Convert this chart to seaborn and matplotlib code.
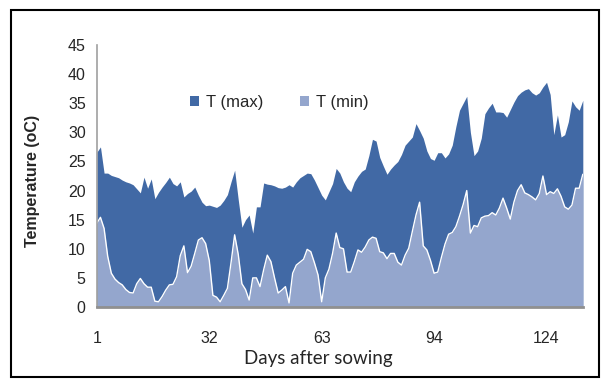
import numpy as np
import pandas as pd
import seaborn as sns
import matplotlib.pyplot as plt
from matplotlib.patches import Rectangle

# daily temperatures
t_max = [26.6, 27.5, 23.0, 23.0, 22.6, 22.4, 22.2, 21.8, 21.5, 21.3,
         21.0, 20.3, 19.6, 22.3, 20.4, 22.0, 18.6, 19.7, 20.6, 21.4,
         22.3, 21.2, 20.8, 21.5, 18.9, 19.5, 19.9, 20.6, 19.2, 18.0,
         17.4, 17.5, 17.3, 17.1, 17.5, 18.3, 19.3, 21.5, 23.5, 18.4,
         13.7, 15.0, 15.8, 12.7, 17.2, 17.2, 21.3, 21.1, 21.0, 20.8,
         20.5, 20.4, 20.6, 21.0, 20.6, 21.5, 22.2, 22.6, 23.0, 22.9,
         21.8, 20.5, 19.2, 18.4, 19.8, 21.2, 23.8, 23.0, 21.5, 20.4,
         19.8, 21.5, 22.5, 23.3, 23.7, 26.0, 28.8, 28.5, 25.7, 24.2,
         22.8, 23.7, 24.4, 25.0, 26.2, 27.8, 28.5, 29.2, 31.5, 30.3,
         29.0, 26.8, 25.5, 25.2, 26.5, 26.5, 25.6, 26.3, 27.8, 31.0,
         33.8, 35.0, 36.2, 30.0, 26.0, 26.8, 29.0, 33.2, 34.2, 35.0,
         33.5, 33.5, 33.4, 32.6, 33.9, 35.2, 36.3, 36.9, 37.3, 37.5,
         36.8, 36.4, 36.8, 37.8, 38.6, 36.5, 29.6, 33.0, 29.2, 29.6,
         31.8, 35.4, 34.4, 33.8, 35.5]

t_min = [14.4, 15.4, 13.5, 8.7, 5.8, 4.8, 4.2, 3.8, 3.0, 2.5,
         2.4, 4.0, 4.9, 4.0, 3.4, 3.4, 1.0, 0.9, 1.8, 2.9,
         3.8, 3.9, 5.2, 8.8, 10.5, 5.9, 7.0, 9.2, 11.5, 11.9,
         10.9, 8.0, 2.0, 1.7, 0.9, 2.0, 3.2, 7.6, 12.4, 9.0,
         4.0, 3.0, 1.2, 5.0, 5.0, 3.5, 6.4, 8.9, 7.8, 5.0,
         2.4, 2.9, 3.5, 0.7, 5.8, 7.2, 7.7, 8.2, 9.9, 9.5,
         7.6, 5.5, 0.9, 5.0, 6.5, 9.2, 12.7, 10.2, 10.0, 6.0,
         6.0, 7.8, 9.8, 9.4, 10.3, 11.5, 12.0, 11.8, 9.5, 9.3,
         8.3, 9.2, 9.2, 7.7, 7.2, 8.9, 10.1, 13.0, 15.8, 18.0,
         10.5, 9.8, 8.0, 5.8, 6.0, 8.5, 10.8, 12.5, 12.8, 13.8,
         15.6, 17.6, 20.0, 12.7, 14.0, 13.8, 15.3, 15.6, 15.7, 16.2,
         15.8, 17.0, 18.7, 17.0, 15.1, 18.0, 20.0, 21.0, 19.6, 19.3,
         18.9, 18.4, 19.5, 22.5, 19.3, 19.8, 19.5, 20.3, 19.0, 17.2,
         16.8, 17.5, 20.4, 20.4, 22.8]

tick_days = [1, 32, 63, 94, 125]
tick_labels = ["1", "32", "63", "94", "124"]

df = pd.DataFrame({"Day": np.arange(1, len(t_max) + 1), "T (max)": t_max, "T (min)": t_min})

dark = "#4169a5"
light = "#94a6cd"

sns.set_style("white")
plt.rcParams["font.family"] = ["Liberation Sans", "DejaVu Sans"]

fig = plt.figure(figsize=(6.09, 3.85), dpi=100)
ax = fig.add_axes([0.159, 0.2026, 0.798, 0.6805])

ax.fill_between(df["Day"], 0, df["T (max)"], color=dark, linewidth=0, label="T (max)")
ax.fill_between(df["Day"], 0, df["T (min)"], color=light, linewidth=0, label="T (min)")
sns.lineplot(data=df, x="Day", y="T (min)", color="white", linewidth=1.0, ax=ax, legend=False)

ax.set_xlim(1, len(t_max))
ax.set_ylim(0, 45)
ax.set_yticks(range(0, 50, 5))
ax.set_xticks(tick_days)
ax.set_xticklabels(tick_labels)
ax.tick_params(axis="y", labelsize=11.5, length=0, pad=8)
ax.tick_params(axis="x", labelsize=11.5, length=0, pad=17)

for s in ["top", "right"]:
    ax.spines[s].set_visible(False)
ax.spines["left"].set_color("#a0a0a0")
ax.spines["left"].set_linewidth(1.2)
ax.spines["bottom"].set_color("#909090")
ax.spines["bottom"].set_linewidth(2.0)

ax.set_xlabel("Days after sowing", fontsize=13.5, family=["Lato", "DejaVu Sans"])
ax.xaxis.set_label_coords(0.455, -0.165)
ax.set_ylabel("Temperature (oC)", fontsize=11.5, fontweight="bold")
ax.yaxis.set_label_coords(-0.117, 0.48)

ax.legend(loc="center", bbox_to_anchor=(0.375, 0.78), ncol=2, frameon=False,
          fontsize=12, handlelength=0.55, handleheight=0.55, handletextpad=0.4,
          columnspacing=2.2)

fig.patches.append(Rectangle((0.018, 0.02), 0.965, 0.955, transform=fig.transFigure,
                             fill=False, edgecolor="black", linewidth=1.5))

fig.savefig("out.png", dpi=100)
